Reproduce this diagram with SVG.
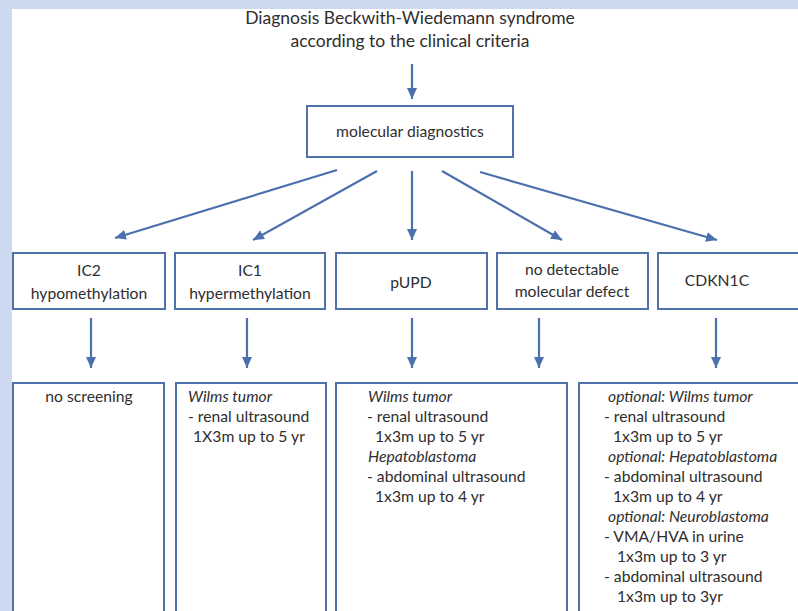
<svg xmlns="http://www.w3.org/2000/svg" width="798" height="611" viewBox="0 0 798 611">
<defs>
<marker id="ah" markerUnits="userSpaceOnUse" markerWidth="12" markerHeight="11" refX="11" refY="5" orient="auto">
<path d="M0,0 L11,5 L0,10 Z" fill="#4a70ad"/>
</marker>
</defs>
<style>
.bx{fill:#ffffff;stroke:#4f72ab;stroke-width:2}
.t{font-family:Lato,"Open Sans","Liberation Sans",sans-serif;font-size:15.7px;fill:#2e2e2e}
.c{text-anchor:middle}
.i{font-style:italic}
.ar{stroke:#4a70ad;stroke-width:2.2;fill:none;marker-end:url(#ah)}
</style>
<rect x="0" y="0" width="798" height="611" fill="#cdd9ef"/>
<rect x="12" y="9" width="786" height="602" fill="#ffffff"/>

<g id="title">
<text class="t c" x="410" y="24" style="font-size:17.5px">Diagnosis Beckwith-Wiedemann  syndrome</text>
<text class="t c" x="410" y="47" style="font-size:17.5px">according to the clinical criteria</text>
</g>

<g id="molecular">
<rect class="bx" x="307" y="106" width="206" height="51"/>
<text class="t c" x="410" y="137">molecular diagnostics</text>
</g>

<g id="ic2">
<rect class="bx" x="13" y="253" width="152" height="56"/>
<text class="t c" x="89" y="276">IC2</text>
<text class="t c" x="89" y="299">hypomethylation</text>
</g>
<g id="ic1">
<rect class="bx" x="175" y="253" width="150" height="56"/>
<text class="t c" x="250" y="276">IC1</text>
<text class="t c" x="250" y="299">hypermethylation</text>
</g>
<g id="pupd">
<rect class="bx" x="336" y="253" width="151" height="56"/>
<text class="t c" x="411" y="288">pUPD</text>
</g>
<g id="nodefect">
<rect class="bx" x="497" y="253" width="151" height="56"/>
<text class="t c" x="572" y="275">no detectable</text>
<text class="t c" x="572" y="297">molecular defect</text>
</g>
<g id="cdkn1c">
<rect class="bx" x="658" y="253" width="150" height="56"/>
<text class="t c" x="717" y="286">CDKN1C</text>
</g>

<g id="screen-ic2">
<rect class="bx" x="13" y="383" width="151" height="240"/>
<text class="t c" x="89" y="402">no screening</text>
</g>
<g id="screen-ic1">
<rect class="bx" x="176" y="383" width="150" height="240"/>
<text class="t i" x="188" y="402">Wilms tumor</text>
<text class="t" x="188" y="422">- renal ultrasound</text>
<text class="t" x="193" y="442">1X3m up to 5 yr</text>
</g>
<g id="screen-pupd">
<rect class="bx" x="336" y="383" width="231" height="240"/>
<text class="t i" x="368" y="402">Wilms tumor</text>
<text class="t" x="367" y="422">- renal ultrasound</text>
<text class="t" x="375" y="442">1x3m up to 5 yr</text>
<text class="t i" x="368" y="462">Hepatoblastoma</text>
<text class="t" x="367" y="482">- abdominal ultrasound</text>
<text class="t" x="375" y="502">1x3m up to 4 yr</text>
</g>
<g id="screen-cdkn1c">
<rect class="bx" x="579" y="383" width="230" height="240"/>
<text class="t i" x="608" y="402">optional: Wilms tumor</text>
<text class="t" x="604" y="422">- renal ultrasound</text>
<text class="t" x="613" y="442">1x3m up to 5 yr</text>
<text class="t i" x="608" y="462">optional: Hepatoblastoma</text>
<text class="t" x="604" y="482">- abdominal ultrasound</text>
<text class="t" x="613" y="502">1x3m up to 4 yr</text>
<text class="t i" x="608" y="522">optional: Neuroblastoma</text>
<text class="t" x="604" y="542">- VMA/HVA in urine</text>
<text class="t" x="617" y="562">1x3m up to 3 yr</text>
<text class="t" x="604" y="582">- abdominal ultrasound</text>
<text class="t" x="617" y="602">1x3m up to 3yr</text>
</g>

<g id="connectors">
<line class="ar" x1="412" y1="64" x2="412" y2="99"/>
<line class="ar" x1="337" y1="170" x2="115" y2="238"/>
<line class="ar" x1="377" y1="171" x2="253" y2="240"/>
<line class="ar" x1="412" y1="171" x2="412" y2="240"/>
<line class="ar" x1="442" y1="171" x2="562" y2="240"/>
<line class="ar" x1="480" y1="172" x2="717" y2="240"/>
<line class="ar" x1="91" y1="318" x2="91" y2="368"/>
<line class="ar" x1="247" y1="318" x2="247" y2="368"/>
<line class="ar" x1="412" y1="318" x2="412" y2="368"/>
<line class="ar" x1="539" y1="318" x2="539" y2="368"/>
<line class="ar" x1="716" y1="318" x2="716" y2="368"/>
</g>
</svg>
